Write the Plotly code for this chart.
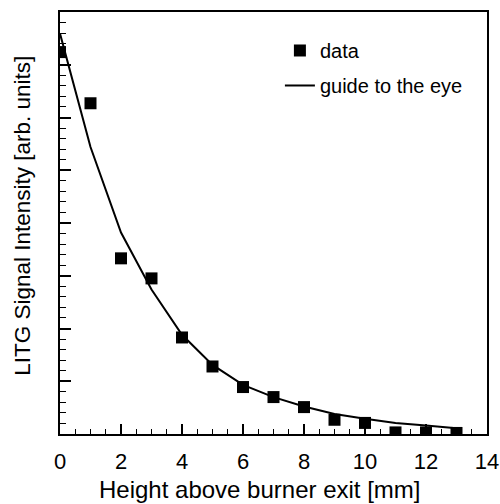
import plotly.graph_objects as go

# Data
height_mm = [0, 1, 2, 3, 4, 5, 6, 7, 8, 9, 10, 11, 12, 13]
signal = [7.24, 6.27, 3.33, 2.95, 1.83, 1.28, 0.89, 0.70, 0.51, 0.27, 0.21, 0.03, 0.03, 0.02]

guide_x = [0, 1, 2, 3, 4, 5, 6, 7, 8, 9, 10, 11, 12, 13]
guide_y = [7.59, 5.44, 3.82, 2.74, 1.88, 1.31, 0.93, 0.70, 0.52, 0.38, 0.29, 0.21, 0.16, 0.11]

x_tick_vals = [0, 2, 4, 6, 8, 10, 12, 14]

x_title = "Height above burner exit [mm]"
y_title = "LITG Signal Intensity [arb. units]"

FONT = "Liberation Sans, Arial, Helvetica, sans-serif"

fig = go.Figure()
fig.add_trace(go.Scatter(
    x=height_mm, y=signal, mode="markers", name="data",
    marker=dict(symbol="square", size=12, color="black"),
    legendgroup="a",
))
fig.add_trace(go.Scatter(
    x=guide_x, y=guide_y, mode="lines", name="guide to the eye",
    line=dict(color="black", width=2),
    legendgroup="b",
))

fig.update_layout(
    width=500, height=504,
    margin=dict(l=60, r=13, t=12, b=70),
    paper_bgcolor="white", plot_bgcolor="white",
    font=dict(family=FONT, color="black", size=22),
    showlegend=True,
    legend=dict(
        x=0.515, y=0.955, xanchor="left", yanchor="top",
        font=dict(size=20, family=FONT),
        bgcolor="rgba(0,0,0,0)", traceorder="grouped", tracegroupgap=6,
    ),
    xaxis=dict(
        range=[0, 14], tickvals=x_tick_vals, ticks="inside", ticklen=10, tickwidth=1.5,
        tickcolor="black", showline=True, linecolor="black", linewidth=2, mirror=True,
        showgrid=False, zeroline=False, ticklabelstandoff=7, automargin=False,
        tickfont=dict(size=22),
        minor=dict(dtick=0.5, ticks="inside", ticklen=5, tickwidth=1, tickcolor="black", showgrid=False),
    ),
    yaxis=dict(
        range=[0, 8], dtick=1, ticks="inside", ticklen=11, tickwidth=1.5, tickcolor="black",
        showticklabels=False, showline=True, linecolor="black", linewidth=2, mirror=True,
        showgrid=False, zeroline=False, automargin=False,
        minor=dict(dtick=0.2, ticks="inside", ticklen=6, tickwidth=1, tickcolor="black", showgrid=False),
    ),
    annotations=[
        dict(text=x_title, xref="paper", yref="paper", x=0.468, y=-0.1327,
             xanchor="center", yanchor="middle", showarrow=False,
             font=dict(size=24, family=FONT, color="black")),
        dict(text=y_title, xref="paper", yref="paper", x=-0.0867, y=0.517,
             xanchor="center", yanchor="middle", showarrow=False, textangle=-90,
             font=dict(size=22.5, family=FONT, color="black")),
    ],
)

fig.write_html("out.html")
